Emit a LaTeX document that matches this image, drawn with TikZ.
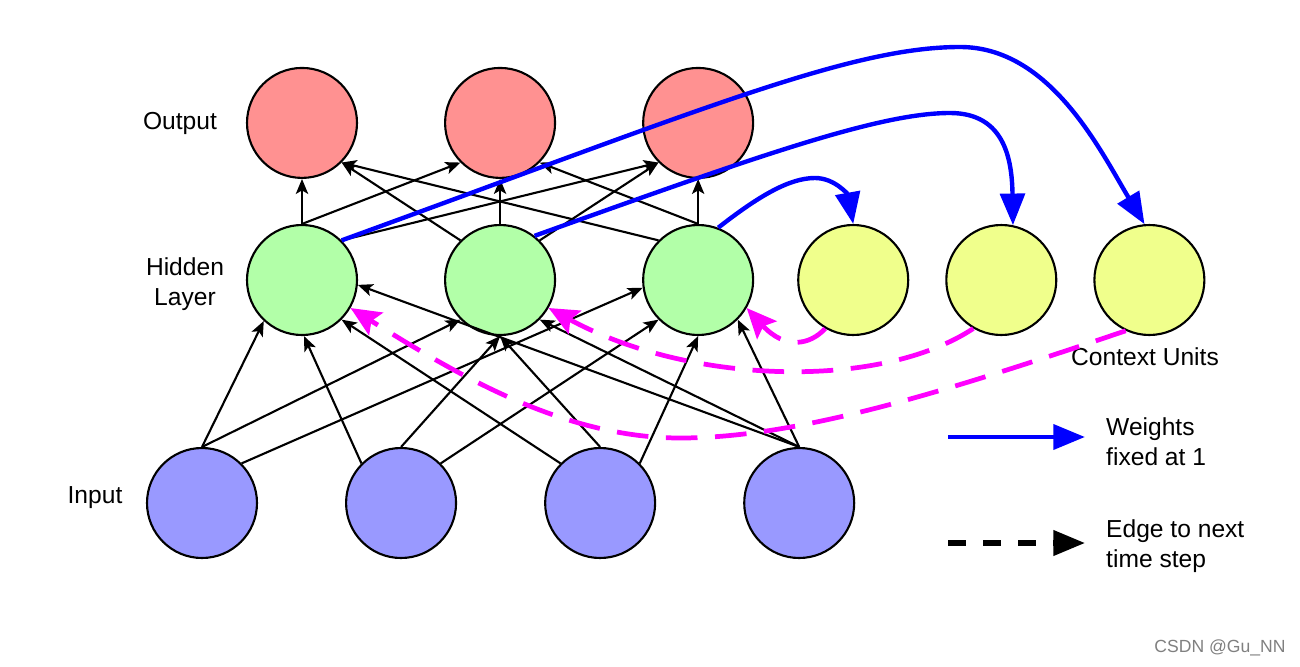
\documentclass[tikz,border=0pt]{standalone}
\usepackage{fontspec}
\setmainfont{Liberation Sans}
\usepackage{tikz}
\usetikzlibrary{arrows.meta,positioning}
\definecolor{OUTred}{RGB}{255,145,145}
\definecolor{HIDgreen}{RGB}{178,255,168}
\definecolor{CTXyellow}{RGB}{240,255,140}
\definecolor{INblue}{RGB}{153,153,255}
\definecolor{NEXTmag}{RGB}{255,0,255}
\definecolor{FIXblue}{RGB}{0,0,255}

\begin{document}
\begin{tikzpicture}[
    x=0.02cm, y=-0.02cm,
    node distance=0.9cm and 1.72cm,
    unit/.style={draw,circle,line width=1.2pt,minimum size=2.2cm,inner sep=0pt},
    lbl/.style={font=\fontsize{14}{17}\selectfont,align=center},
    arr/.style={-{Stealth[length=8.5pt,width=7pt,inset=2pt]},line width=1.2pt},
    fixedarr/.style={-{Triangle[length=18pt,width=14pt]},line width=2.5pt,FIXblue},
    nextarr/.style={-{Stealth[length=17pt,width=15pt,inset=3pt]},line width=2.7pt,NEXTmag,dash pattern=on 18pt off 10pt}
  ]
  \path[use as bounding box,fill=white] (0,0) rectangle (1300,666);

  % units
  \node[unit,fill=HIDgreen] (hid1) at (302,280) {};
  \node[unit,fill=HIDgreen,right=of hid1] (hid2) {};
  \node[unit,fill=HIDgreen,right=of hid2] (hid3) {};
  \node[unit,fill=OUTred,above=of hid1] (out1) {};
  \node[unit,fill=OUTred,above=of hid2] (out2) {};
  \node[unit,fill=OUTred,above=of hid3] (out3) {};
  \node[unit,fill=CTXyellow,right=0.86cm of hid3] (ctx1) {};
  \node[unit,fill=CTXyellow,right=0.72cm of ctx1] (ctx2) {};
  \node[unit,fill=CTXyellow,right=0.72cm of ctx2] (ctx3) {};
  \node[unit,fill=INblue] (in1) at (202,503) {};
  \node[unit,fill=INblue,right=1.74cm of in1] (in2) {};
  \node[unit,fill=INblue,right=1.74cm of in2] (in3) {};
  \node[unit,fill=INblue,right=1.74cm of in3] (in4) {};

  % labels
  \node[lbl] (outlbl) at (180,123) {Output};
  \node[lbl] (hidlbl) at (185,284) {Hidden\\Layer};
  \node[lbl] (inlbl) at (95,498) {Input};
  \node[lbl] (ctxlbl) at (1145,357) {Context Units};

  % hidden -> output
  \foreach \a/\b in {hid1.north/out1.south, hid1.north/out2.-135, hid1.45/out3.-135,
                     hid2.135/out1.-45, hid2.north/out2.south, hid2.45/out3.-135,
                     hid3.135/out1.-45, hid3.north/out2.-45, hid3.north/out3.south}
    \draw[arr] (\a) -- (\b);

  % input -> hidden
  \foreach \a/\b in {in1.north/hid1.-133, in1.north/hid2.-135, in1.45/hid3.188,
                     in2.135/hid1.-88, in2.north/hid2.south, in2.45/hid3.-135,
                     in3.135/hid1.-45, in3.north/hid2.south, in3.45/hid3.south,
                     in4.north/hid1.-5, in4.north/hid2.-45, in4.north/hid3.-45}
    \draw[arr] (\a) -- (\b);

  % copy to context units
  \draw[fixedarr] (hid1.45) .. controls (700,110) and (850,47) .. (960,47)
    .. controls (1050,47) and (1100,150) .. (ctx3.95);
  \draw[fixedarr] (hid2.52) .. controls (760,155) and (880,113) .. (950,113)
    .. controls (1005,113) and (1012,160) .. (ctx2.78);
  \draw[fixedarr] (hid3.69) .. controls (760,195) and (790,178) .. (815,178)
    .. controls (835,178) and (848,195) .. (ctx1.north);

  % context -> hidden, next step
  \draw[nextarr] (ctx1.-120) .. controls (810,345) and (785,350) .. (hid3.-30);
  \draw[nextarr] (ctx2.-120) .. controls (880,390) and (690,385) .. (hid2.-30);
  \draw[nextarr] (ctx3.-115) .. controls (950,390) and (800,438) .. (680,438)
    .. controls (560,438) and (450,370) .. (hid1.-30);

  % legend
  \coordinate (wfrom) at (948,437);
  \coordinate (wto) at (1085,437);
  \draw[fixedarr,line width=2.8pt] (wfrom) -- (wto);
  \node[lbl,anchor=west,align=left] (wlbl) at (1100,442) {Weights\\fixed at 1};
  \coordinate (efrom) at (948,543);
  \coordinate (eto) at (1085,543);
  \draw[-{Triangle[length=18pt,width=14pt]},line width=3pt,dash pattern=on 10pt off 10pt] (efrom) -- (eto);
  \node[lbl,anchor=west,align=left] (elbl) at (1100,546) {Edge to next\\time step};

  \node[font=\fontsize{10}{12}\selectfont,text=gray] (mark) at (1220,648) {CSDN @Gu\_NN};
\end{tikzpicture}
\end{document}
